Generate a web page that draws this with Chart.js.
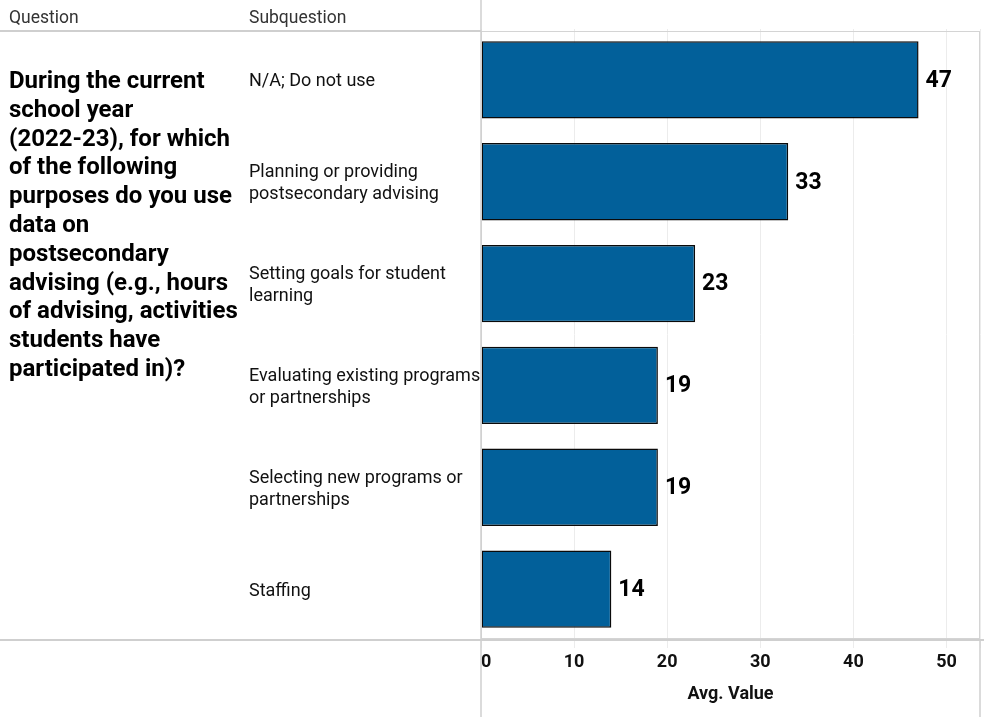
<!DOCTYPE html>
<html>
<head>
<meta charset="utf-8">
<script src="https://cdn.jsdelivr.net/npm/chart.js@4.4.1/dist/chart.umd.min.js"></script>
<style>
  body { margin: 0; background: #fff; font-family: Roboto, sans-serif; }
  #wrap { position: relative; width: 984px; height: 717px; }
  .hdr { position: absolute; top: 7px; font-size: 17.5px; color: #333; }
  #question { position: absolute; left: 9px; top: 66px; font-size: 24px; font-weight: bold; line-height: 28.8px; color: #000; }
</style>
</head>
<body>
<div id="wrap">
  <canvas id="chart"></canvas>
  <div class="hdr" style="left:9px">Question</div>
  <div class="hdr" style="left:249px">Subquestion</div>
  <div id="question"></div>
</div>
<script>
const questionLines = [
  "During the current",
  "school year",
  "(2022-23), for which",
  "of the following",
  "purposes do you use",
  "data on",
  "postsecondary",
  "advising (e.g., hours",
  "of advising, activities",
  "students have",
  "participated in)?"
];
const subquestions = [
  ["N/A; Do not use"],
  ["Planning or providing", "postsecondary advising"],
  ["Setting goals for student", "learning"],
  ["Evaluating existing programs", "or partnerships"],
  ["Selecting new programs or", "partnerships"],
  ["Staffing"]
];
const avgValues = [47, 33, 23, 19, 19, 14];
const xTicks = [0, 10, 20, 30, 40, 50];
const xMax = 53.6;

document.getElementById("question").innerHTML = questionLines.join("<br>");

// value labels at the end of each bar
const barLabels = {
  id: "barLabels",
  afterDatasetsDraw(chart) {
    const ctx = chart.ctx;
    const meta = chart.getDatasetMeta(0);
    ctx.save();
    ctx.font = "bold 23px Roboto";
    ctx.fillStyle = "#000";
    ctx.textBaseline = "middle";
    ctx.textAlign = "left";
    meta.data.forEach((bar, i) => {
      ctx.fillText(avgValues[i], bar.x + 7, bar.y + 1);
    });
    ctx.restore();
  }
};

// table rules like the original layout
const tableLines = {
  id: "tableLines",
  afterDraw(chart) {
    const ctx = chart.ctx;
    const a = chart.chartArea;
    const top = 31;
    ctx.save();
    ctx.strokeStyle = "#d4d4d4";
    ctx.lineWidth = 1;
    ctx.strokeRect(a.left + 0.5, top + 0.5, a.right - a.left - 1, a.bottom - top - 2);
    ctx.strokeStyle = "#cfcfcf";
    ctx.lineWidth = 2;
    ctx.beginPath();
    ctx.moveTo(0, top); ctx.lineTo(a.left, top);
    ctx.moveTo(0, a.bottom); ctx.lineTo(chart.width, a.bottom);
    ctx.stroke();
    ctx.lineWidth = 1.5;
    ctx.beginPath();
    ctx.moveTo(a.left, 0); ctx.lineTo(a.left, chart.height);
    ctx.moveTo(a.right, a.bottom); ctx.lineTo(a.right, chart.height);
    ctx.stroke();
    ctx.restore();
  }
};

new Chart(document.getElementById("chart"), {
  type: "bar",
  data: {
    labels: subquestions,
    datasets: [
      {
        label: "Avg. Value",
        data: avgValues,
        backgroundColor: "#02609a",
        borderColor: "#0a0a0a",
        borderWidth: 1.5,
        borderSkipped: false,
        categoryPercentage: 1,
        barPercentage: 0.76,
      },
    ],
  },
  options: {
    indexAxis: "y",
    responsive: true,
    maintainAspectRatio: false,
    animation: false,
    layout: { padding: { left: 249, top: 29, right: 1, bottom: 0 } },
    plugins: { legend: { display: false }, tooltip: { enabled: false } },
    scales: {
      x: {
        min: 0,
        max: xMax,
        afterBuildTicks: (s) => { s.ticks = xTicks.concat([xMax]).map((v) => ({ value: v })); },
        afterFit: (s) => { s.height = 77; },
        grid: { color: "#ececec", lineWidth: 1, tickLength: 8, drawTicks: true },
        border: { display: false },
        ticks: {
          align: "inner",
          color: "#111",
          font: { family: "Roboto", size: 18, weight: "bold" },
          padding: 4,
          maxRotation: 0,
          callback: (v) => (xTicks.includes(v) ? v : ""),
        },
        title: {
          display: true,
          text: "Avg. Value",
          color: "#111",
          font: { family: "Roboto", size: 18, weight: "bold" },
          padding: { top: 4, bottom: 12 },
        },
      },
      y: {
        afterFit: (s) => { s.width = 232; },
        grid: { display: false },
        border: { display: false },
        ticks: {
          crossAlign: "far",
          labelOffset: 2,
          color: "#111",
          font: { family: "Roboto", size: 18, lineHeight: 1.22 },
          padding: 0,
        },
      },
    },
  },
  plugins: [barLabels, tableLines],
});
</script>
</body>
</html>
